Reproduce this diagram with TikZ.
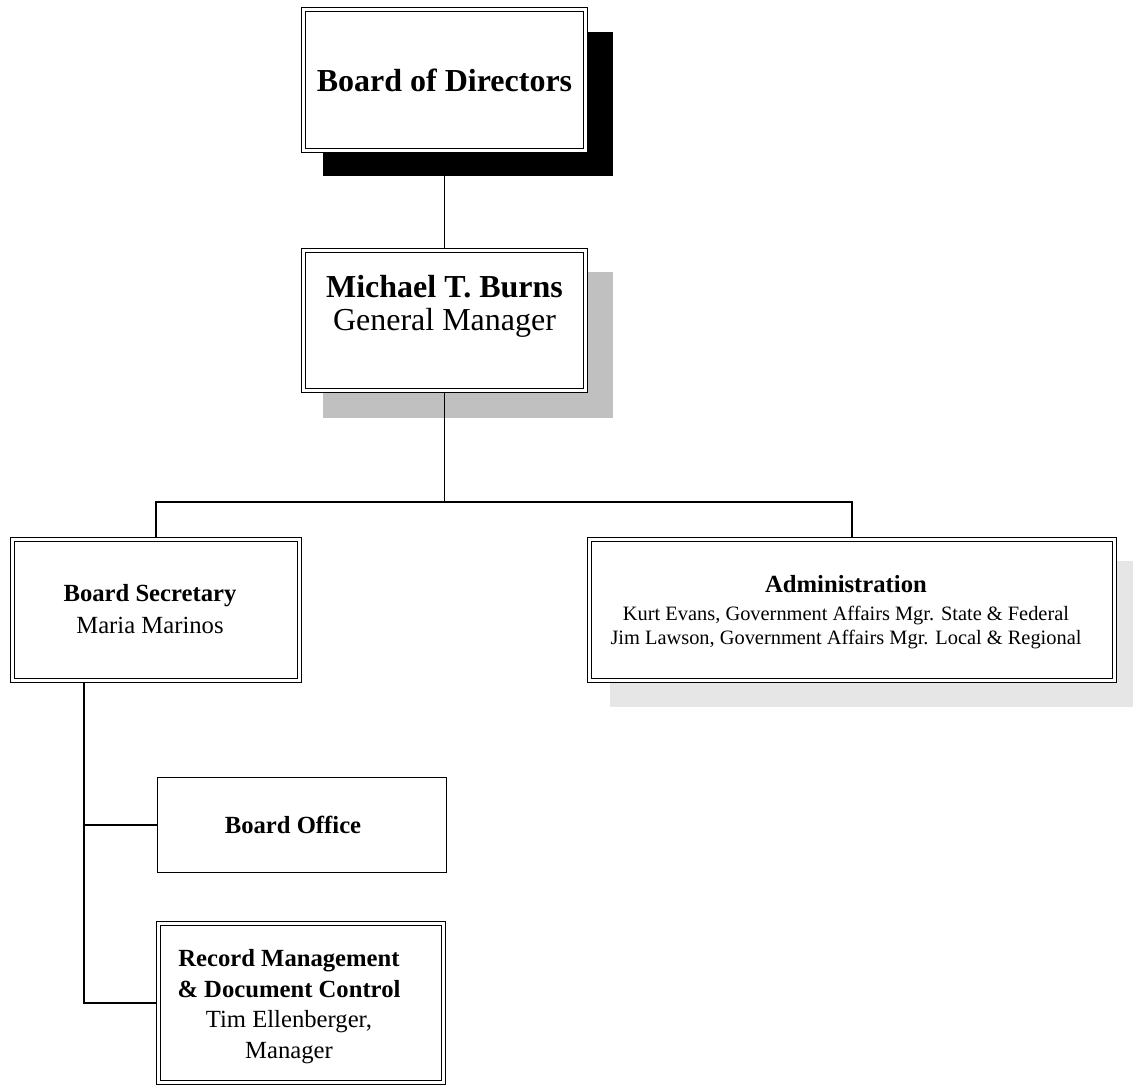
\documentclass[tikz,border=0pt]{standalone}
\usepackage{fontspec}
\setmainfont{Liberation Serif}
\usepackage{tikz}
\definecolor{shadegray}{HTML}{C0C0C0}
\definecolor{lightshade}{HTML}{E6E6E6}

\begin{document}
\begin{tikzpicture}[x=0.75pt, y=-0.75pt,
  unit/.style={draw, fill=white, line width=1.1pt, double, double distance=1.8pt, inner sep=0pt, outer sep=2pt},
  plainunit/.style={draw, fill=white, line width=1.1pt, inner sep=0pt},
  link/.style={line width=1.2pt},
  bigtext/.style={align=center, font=\fontsize{24}{24.75}\selectfont},
  midtext/.style={align=center, font=\fontsize{18.5}{24}\selectfont}]

\useasboundingbox (0,0) rectangle (1133,1086);

% Shadows behind the boxes
\fill[black]      (323,32)  rectangle (613,176);
\fill[shadegray]  (323,272) rectangle (613,418);
\fill[lightshade] (610,561) rectangle (1140,707);

% Boxes
\node[unit, minimum width=211.3pt, minimum height=105.5pt] (bod) at (444.5,80)    {};
\node[unit, minimum width=211.3pt, minimum height=104.8pt] (gm)  at (444.5,320.5) {};
\node[unit, minimum width=215pt,   minimum height=105.5pt] (sec) at (156,610)     {};
\node[unit, minimum width=393.5pt, minimum height=105.5pt] (adm) at (852,610)     {};
\node[plainunit, minimum width=216.5pt, minimum height=71pt] (off) at (302,825)   {};
\node[unit, minimum width=213.5pt, minimum height=119pt]   (rec) at (301,1003)    {};

% Texts
\node[bigtext, font=\fontsize{24}{24.75}\selectfont\bfseries] (bodtext) at (444.5,80) {Board of Directors};
\node[bigtext] (gmtext) at (444.5,306.5) {\textbf{Michael T. Burns}\\General Manager};
\node[midtext] (sectext) at (150,609) {\textbf{Board Secretary}\\Maria Marinos};
\node[align=center, font=\fontsize{15.3}{18}\selectfont] (admtext) at (846,612)
  {{\fontsize{18.5}{22}\selectfont\bfseries Administration}\\[3pt]
   Kurt Evans, Government Affairs Mgr. State \& Federal\\
   Jim Lawson, Government Affairs Mgr. Local \& Regional};
\node[midtext, font=\fontsize{18.5}{24}\selectfont\bfseries] (offtext) at (293,825) {Board Office};
\node[align=center, font=\fontsize{18.5}{23}\selectfont] (rectext) at (289,1006.5)
  {\textbf{Record Management}\\\textbf{\& Document Control}\\Tim Ellenberger,\\Manager};

% Connectors
\coordinate (bus)   at (444.5,502);
\coordinate (trunk) at (84,683);
\draw[link] (bod.south) -- (gm.north);
\draw[link] (gm.south) -- (bus);
\draw[link] (sec.north) |- (bus) -| (adm.north);
\draw[link] (trunk) |- (rec.west);
\draw[link] (trunk |- off.west) -- (off.west);

\end{tikzpicture}
\end{document}
